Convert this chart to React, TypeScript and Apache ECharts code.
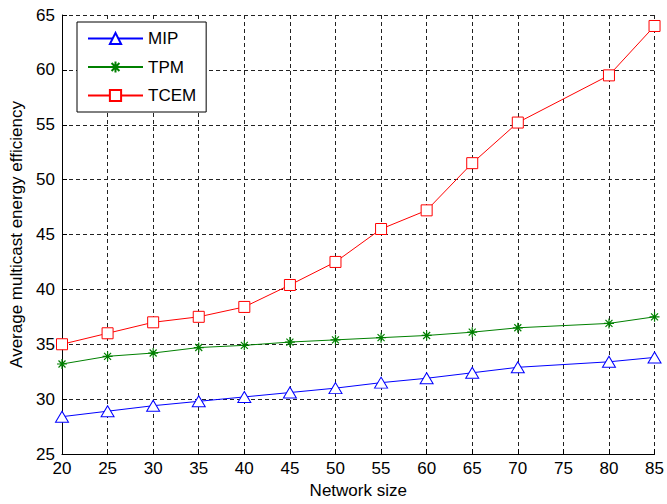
import React, { useEffect, useRef } from "react";
import * as echarts from "echarts";

const networkSize = [20, 25, 30, 35, 40, 45, 50, 55, 60, 65, 70, 80, 85];
const mipValues = [28.4, 28.9, 29.4, 29.8, 30.2, 30.6, 31.0, 31.5, 31.9, 32.4, 32.9, 33.4, 33.8];
const tpmValues = [33.2, 33.9, 34.2, 34.7, 34.9, 35.2, 35.4, 35.6, 35.8, 36.1, 36.5, 36.9, 37.5];
const tcemValues = [35.0, 36.0, 37.0, 37.5, 38.4, 40.4, 42.5, 45.5, 47.2, 51.5, 55.2, 59.5, 64.0];
const seriesNames = ["MIP", "TPM", "TCEM"];

const FONT = "'Liberation Sans', Arial, Helvetica, sans-serif";
const ASTERISK = "path://M5,0 L5,10 M0,5 L10,5 M1.5,1.5 L8.5,8.5 M1.5,8.5 L8.5,1.5";

function pairs(xs: number[], ys: number[]) {
  return xs.map((x, i) => [x, ys[i]]);
}

export default function App() {
  const ref = useRef<HTMLDivElement>(null);
  useEffect(() => {
    if (!ref.current) return;
    const chart = echarts.init(ref.current, undefined, { renderer: "svg" });
    const gridLine = { show: true, lineStyle: { color: "#222", type: [4, 3] as any, width: 1 } };
    chart.setOption({
      animation: false,
      backgroundColor: "#fff",
      textStyle: { fontFamily: FONT },
      grid: { left: 62, right: 11, top: 15, bottom: 46 },
      legend: {
        orient: "vertical",
        left: 77,
        top: 22,
        padding: [8, 10, 8, 10],
        itemWidth: 55,
        itemHeight: 14,
        itemGap: 11.5,
        borderColor: "#000",
        borderWidth: 1,
        backgroundColor: "#fff",
        textStyle: { color: "#000", fontSize: 17, fontFamily: FONT },
        data: seriesNames,
      },
      xAxis: {
        type: "value",
        min: 20,
        max: 85,
        interval: 5,
        name: "Network size",
        nameLocation: "middle",
        nameGap: 28,
        nameTextStyle: { color: "#000", fontSize: 17, fontFamily: FONT },
        axisLine: { lineStyle: { color: "#000", width: 1 } },
        axisTick: { inside: true, length: 5, lineStyle: { color: "#000" } },
        axisLabel: { color: "#000", fontSize: 17, margin: 6, fontFamily: FONT },
        splitLine: gridLine,
      },
      yAxis: {
        type: "value",
        min: 25,
        max: 65,
        interval: 5,
        name: "Average multicast energy efficiency",
        nameLocation: "middle",
        nameGap: 36,
        nameTextStyle: { color: "#000", fontSize: 17, fontFamily: FONT },
        axisLine: { show: true, lineStyle: { color: "#000", width: 1 } },
        axisTick: { show: true, inside: true, length: 5, lineStyle: { color: "#000" } },
        axisLabel: { color: "#000", fontSize: 17, margin: 7, fontFamily: FONT },
        splitLine: gridLine,
      },
      series: [
        {
          name: "MIP",
          type: "line",
          data: pairs(networkSize, mipValues),
          symbol: "triangle",
          symbolSize: [13, 11],
          lineStyle: { color: "#0000ff", width: 1 },
          itemStyle: { color: "#fff", borderColor: "#0000ff", borderWidth: 1 },
          z: 3,
        },
        {
          name: "TPM",
          type: "line",
          data: pairs(networkSize, tpmValues),
          symbol: ASTERISK,
          symbolSize: 10,
          lineStyle: { color: "#008000", width: 1 },
          itemStyle: { color: "#008000", borderColor: "#008000", borderWidth: 1.2 },
          z: 3,
        },
        {
          name: "TCEM",
          type: "line",
          data: pairs(networkSize, tcemValues),
          symbol: "rect",
          symbolSize: 11,
          lineStyle: { color: "#ff0000", width: 1 },
          itemStyle: { color: "#fff", borderColor: "#ff0000", borderWidth: 1 },
          z: 3,
        },
      ],
    });
    return () => chart.dispose();
  }, []);
  return (
    <div
      ref={ref}
      style={{ position: "absolute", left: 0, top: 0, width: 667, height: 504 }}
    />
  );
}
